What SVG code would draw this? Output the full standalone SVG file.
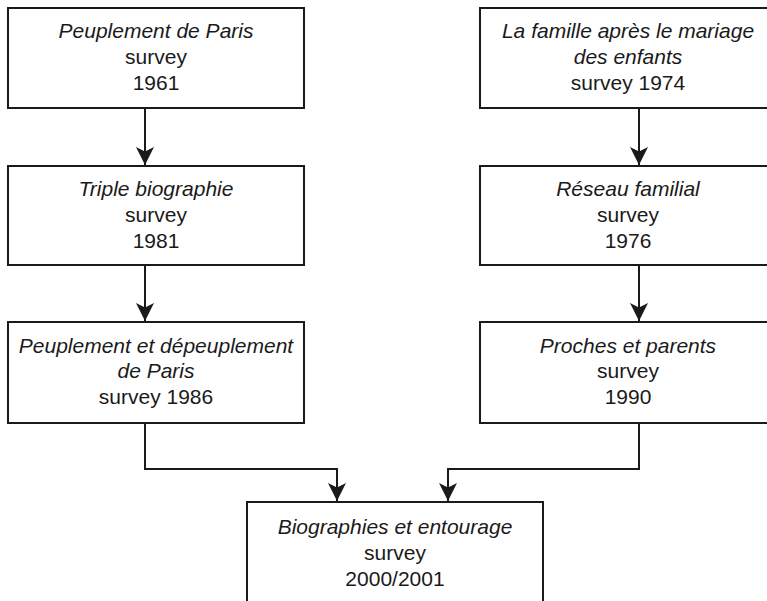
<svg xmlns="http://www.w3.org/2000/svg" width="767" height="601" viewBox="0 0 767 601">
  <style>
    .box { fill: #ffffff; stroke: #1a1a1a; stroke-width: 2; }
    .t { font-family: "Liberation Sans", Arial, Helvetica, sans-serif; font-size: 21px; fill: #1a1a1a; text-anchor: middle; }
    .i { font-style: italic; }
    .edge { fill: none; stroke: #1a1a1a; stroke-width: 2; }
  </style>
  <defs>
    <marker id="arrow" markerUnits="userSpaceOnUse" markerWidth="18" markerHeight="18" viewBox="0 -8 16 16" refX="16" refY="0" orient="auto">
      <path d="M0,-8 L16,0 L0,8 L4,0 Z" fill="#1a1a1a"/>
    </marker>
  </defs>
  <rect width="767" height="601" fill="#ffffff"/>

  <g id="edges">
    <path class="edge" d="M145,108 V165" marker-end="url(#arrow)"/>
    <path class="edge" d="M145,265 V321" marker-end="url(#arrow)"/>
    <path class="edge" d="M639,108 V165" marker-end="url(#arrow)"/>
    <path class="edge" d="M639,265 V321" marker-end="url(#arrow)"/>
    <path class="edge" d="M145,423 V469 H337 V501" marker-end="url(#arrow)"/>
    <path class="edge" d="M639,423 V469 H448 V501" marker-end="url(#arrow)"/>
  </g>

  <g id="peuplement1961">
    <rect class="box" x="8" y="8" width="296" height="100"/>
    <text class="t i" x="156" y="38">Peuplement de Paris</text>
    <text class="t" x="156" y="64">survey</text>
    <text class="t" x="156" y="90">1961</text>
  </g>

  <g id="famille1974">
    <rect class="box" x="480" y="8" width="296" height="100"/>
    <text class="t i" x="628" y="38">La famille après le mariage</text>
    <text class="t i" x="628" y="64">des enfants</text>
    <text class="t" x="628" y="90">survey 1974</text>
  </g>

  <g id="triple1981">
    <rect class="box" x="8" y="166" width="296" height="99"/>
    <text class="t i" x="156" y="196">Triple biographie</text>
    <text class="t" x="156" y="222">survey</text>
    <text class="t" x="156" y="248">1981</text>
  </g>

  <g id="reseau1976">
    <rect class="box" x="480" y="166" width="296" height="99"/>
    <text class="t i" x="628" y="196">Réseau familial</text>
    <text class="t" x="628" y="222">survey</text>
    <text class="t" x="628" y="248">1976</text>
  </g>

  <g id="depeuplement1986">
    <rect class="box" x="8" y="322" width="296" height="101"/>
    <text class="t i" x="156" y="353">Peuplement et dépeuplement</text>
    <text class="t i" x="156" y="378">de Paris</text>
    <text class="t" x="156" y="404">survey 1986</text>
  </g>

  <g id="proches1990">
    <rect class="box" x="480" y="322" width="296" height="101"/>
    <text class="t i" x="628" y="353">Proches et parents</text>
    <text class="t" x="628" y="378">survey</text>
    <text class="t" x="628" y="404">1990</text>
  </g>

  <g id="biographies2000">
    <rect class="box" x="247" y="502" width="296" height="120"/>
    <text class="t i" x="395" y="534">Biographies et entourage</text>
    <text class="t" x="395" y="560">survey</text>
    <text class="t" x="395" y="586">2000/2001</text>
  </g>
</svg>
